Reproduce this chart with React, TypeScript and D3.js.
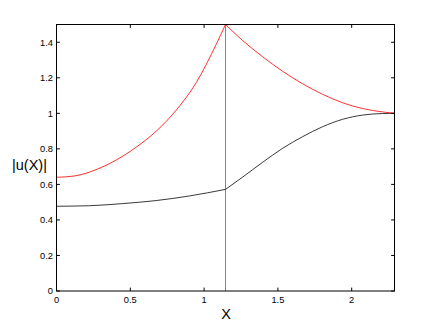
import React from "react";
import * as d3 from "d3";

const xTicks = [0, 0.5, 1, 1.5, 2];
const yTicks = [0, 0.2, 0.4, 0.6, 0.8, 1, 1.2, 1.4];
const xDomain = [0, 2.29];
const yDomain = [0, 1.5];
const xJump = 1.145;

const xLeft = [0, 0.132, 0.268, 0.404, 0.539, 0.675, 0.811, 0.946, 1.082, 1.145];
const redLeft = [0.64, 0.649, 0.683, 0.737, 0.809, 0.899, 1.018, 1.172, 1.388, 1.5];
const xRight = [1.145, 1.258, 1.394, 1.53, 1.666, 1.801, 1.937, 2.073, 2.209, 2.29];
const redRight = [1.5, 1.412, 1.32, 1.238, 1.167, 1.108, 1.06, 1.027, 1.008, 1.0];
const xBlackLeft = [0, 0.223, 0.449, 0.675, 0.901, 1.145];
const blackLeft = [0.477, 0.48, 0.492, 0.509, 0.535, 0.572];
const blackRight = [0.572, 0.639, 0.723, 0.802, 0.868, 0.924, 0.966, 0.99, 0.999, 1.0];

const W = 436;
const H = 328;
const L = 56.5, R = 394.5, T = 24.5, B = 291;

export default function App() {
  const x = d3.scaleLinear().domain(xDomain).range([L, R]);
  const y = d3.scaleLinear().domain(yDomain).range([B, T]);
  const line = d3
    .line<[number, number]>()
    .x((d) => x(d[0]))
    .y((d) => y(d[1]))
    .curve(d3.curveMonotoneX);
  const seg = (xs: number[], ys: number[]) =>
    line(xs.map((v, i) => [v, ys[i]] as [number, number])) || "";
  const font = "'Liberation Sans', Arial, Helvetica, sans-serif";
  const tk = 3.4;
  return (
    <svg
      width={W}
      height={H}
      style={{ position: "absolute", left: 0, top: 0, background: "#fff" }}
      fontFamily={font}
    >
      <rect x={0} y={0} width={W} height={H} fill="#fff" />
      <line x1={x(xJump)} x2={x(xJump)} y1={B} y2={y(1.5)} stroke="#5a6ee8" strokeWidth={0.9} />
      <path d={seg(xBlackLeft, blackLeft)} fill="none" stroke="#222" strokeWidth={0.9} />
      <path d={seg(xRight, blackRight)} fill="none" stroke="#222" strokeWidth={0.9} />
      <path d={seg(xLeft, redLeft)} fill="none" stroke="#ff1a1a" strokeWidth={0.9} />
      <path d={seg(xRight, redRight)} fill="none" stroke="#ff1a1a" strokeWidth={0.9} />
      <rect x={L} y={T} width={R - L} height={B - T} fill="none" stroke="#000" strokeWidth={1} />
      {xTicks.map((t) => (
        <g key={"x" + t}>
          <line x1={x(t)} x2={x(t)} y1={B} y2={B - tk} stroke="#000" strokeWidth={1} />
          <line x1={x(t)} x2={x(t)} y1={T} y2={T + tk} stroke="#000" strokeWidth={1} />
          <text x={x(t)} y={303} fontSize={9.3} textAnchor="middle" fill="#000">
            {String(t)}
          </text>
        </g>
      ))}
      {yTicks.map((t) => (
        <g key={"y" + t}>
          <line x1={L} x2={L + tk} y1={y(t)} y2={y(t)} stroke="#000" strokeWidth={1} />
          <line x1={R} x2={R - tk} y1={y(t)} y2={y(t)} stroke="#000" strokeWidth={1} />
          <text x={53} y={y(t) + 3.3} fontSize={9.3} textAnchor="end" fill="#000">
            {String(t)}
          </text>
        </g>
      ))}
      <text x={226} y={318.5} fontSize={14.5} textAnchor="middle" fill="#000">
        X
      </text>
      <text x={29.5} y={169.5} fontSize={14.5} textAnchor="middle" fill="#000">
        |u(X)|
      </text>
    </svg>
  );
}
